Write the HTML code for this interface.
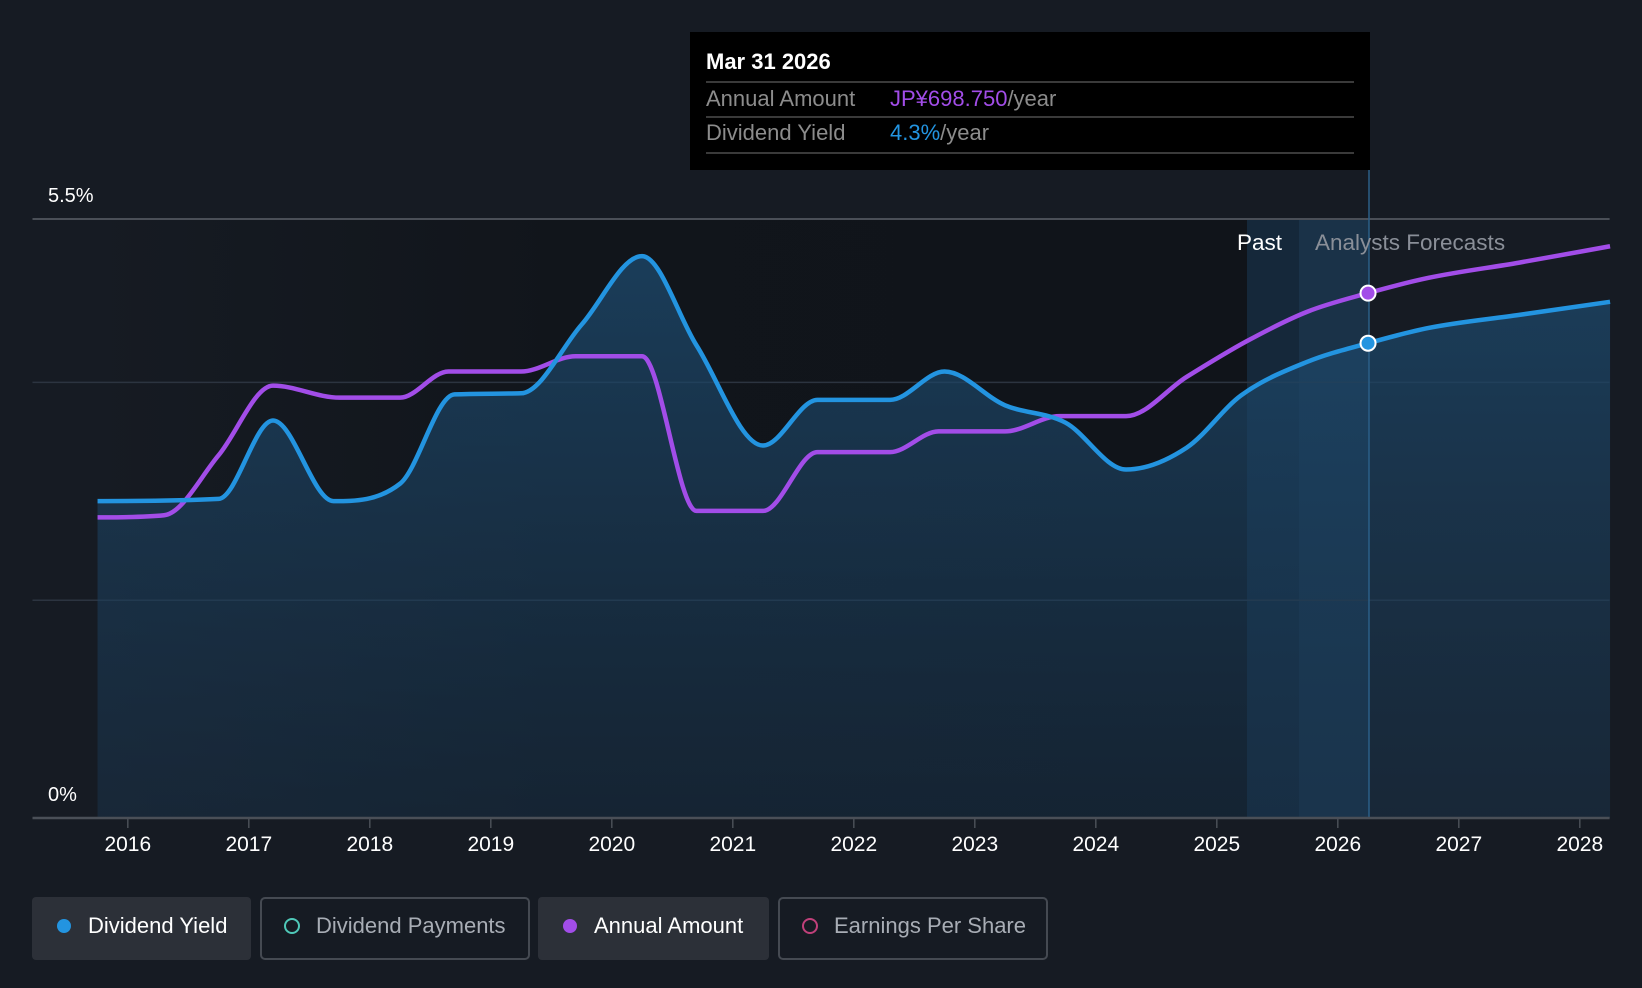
<!DOCTYPE html>
<html><head><meta charset="utf-8"><style>
body{margin:0;background:#161b23;font-family:"Liberation Sans",sans-serif;}
svg{display:block}
</style></head><body>
<svg id="c" width="1642" height="988">
<defs>
<linearGradient id="fillg" x1="0" y1="0" x2="0" y2="1">
<stop offset="0" stop-color="#1d4a6e" stop-opacity="0.75"/>
<stop offset="1" stop-color="#1a3650" stop-opacity="0.45"/>
</linearGradient>
<linearGradient id="bgg" x1="0" y1="0" x2="1" y2="0">
<stop offset="0" stop-color="#161b23"/>
<stop offset="0.4" stop-color="#11151b"/>
<stop offset="1" stop-color="#10141a"/>
</linearGradient>
</defs>
<rect width="1642" height="988" fill="#161b23"/>
<rect x="96" y="219" width="1151" height="599" fill="url(#bgg)"/>
<rect x="1247" y="219" width="122" height="599" fill="#15283a"/>
<rect x="1299" y="219" width="70" height="599" fill="#1a3248"/>
<g id="grid"></g>
<path id="area" fill="url(#fillg)"/>
<line x1="1369" y1="170" x2="1369" y2="818" stroke="#2b5f88" stroke-width="1.5"/>
<path id="purple" fill="none" stroke="#a24de8" stroke-width="4.5"/>
<path id="blue" fill="none" stroke="#2394e0" stroke-width="4.5"/>
<g id="axis"></g>
<text x="1282" y="250" fill="#fff" font-size="22.5" text-anchor="end">Past</text>
<text x="1315" y="250" fill="#8a8f98" font-size="22.5">Analysts Forecasts</text>
<g>
<rect x="690" y="32" width="680" height="138" fill="#000"/>
<text x="706" y="69" fill="#fff" font-size="22" font-weight="bold">Mar 31 2026</text>
<line x1="706" x2="1354" y1="82" y2="82" stroke="#3a3a3a" stroke-width="2"/>
<text x="706" y="106" fill="#8c8c8c" font-size="22">Annual Amount</text>
<text x="890" y="106" font-size="22"><tspan fill="#a24de8">JP¥698.750</tspan><tspan fill="#8c8c8c">/year</tspan></text>
<line x1="706" x2="1354" y1="117" y2="117" stroke="#3a3a3a" stroke-width="2"/>
<text x="706" y="140" fill="#8c8c8c" font-size="22">Dividend Yield</text>
<text x="890" y="140" font-size="22"><tspan fill="#2394e0">4.3%</tspan><tspan fill="#8c8c8c">/year</tspan></text>
<line x1="706" x2="1354" y1="153" y2="153" stroke="#3a3a3a" stroke-width="2"/>
</g>
<g id="dots"></g>
<g id="legend">
<g><rect x="32" y="897" width="219" height="63" rx="4" fill="#2c3038"/><circle cx="64" cy="926" r="7" fill="#2394e0"/><text x="88" y="933" fill="#fff" font-size="22">Dividend Yield</text></g>
<g><rect x="261" y="898" width="268" height="61" rx="4" fill="none" stroke="#454a52" stroke-width="2"/><circle cx="292" cy="926" r="7" fill="none" stroke="#4fc8b8" stroke-width="2"/><text x="316" y="933" fill="#a8adb5" font-size="22">Dividend Payments</text></g>
<g><rect x="538" y="897" width="231" height="63" rx="4" fill="#2c3038"/><circle cx="570" cy="926" r="7" fill="#a24de8"/><text x="594" y="933" fill="#fff" font-size="22">Annual Amount</text></g>
<g><rect x="779" y="898" width="268" height="61" rx="4" fill="none" stroke="#454a52" stroke-width="2"/><circle cx="810" cy="926" r="7" fill="none" stroke="#c0407a" stroke-width="2"/><text x="834" y="933" fill="#a8adb5" font-size="22">Earnings Per Share</text></g>
</g>
</svg>
<script>
const years=[2016,2017,2018,2019,2020,2021,2022,2023,2024,2025,2026,2027,2028];
const yTicks=[0,2,4,5.5];
const yLabels=["0%","","","5.5%"];
const yieldT=[2015.75,2016.75,2017.2,2017.7,2018.25,2018.7,2019.25,2019.75,2020.25,2020.7,2021.25,2021.7,2022.3,2022.75,2023.25,2023.75,2024.25,2024.75,2025.2,2025.75,2026.25,2026.75,2027.5,2028.25];
const yieldV=[2.91,2.93,3.65,2.91,3.07,3.89,3.9,4.53,5.16,4.34,3.42,3.84,3.84,4.1,3.79,3.63,3.2,3.4,3.88,4.19,4.36,4.5,4.62,4.74];
const amtT=[2015.75,2016.3,2016.75,2017.2,2017.75,2018.25,2018.65,2019.25,2019.7,2020.25,2020.7,2021.25,2021.7,2022.3,2022.7,2023.25,2023.7,2024.25,2024.75,2025.25,2025.75,2026.25,2026.75,2027.5,2028.25];
const amtV=[2.76,2.78,3.33,3.97,3.86,3.86,4.1,4.1,4.24,4.24,2.82,2.82,3.36,3.36,3.55,3.55,3.69,3.69,4.05,4.38,4.65,4.82,4.96,5.1,5.25];
const hoverT=2026.25;
const x=t=>127.8+(t-2016)*121.0;
const y=v=>818-v*108.9;
const NS="http://www.w3.org/2000/svg";
function el(tag,attrs,parent){const e=document.createElementNS(NS,tag);for(const k in attrs)e.setAttribute(k,attrs[k]);parent.appendChild(e);return e;}
function interp(ts,vs,t){for(let i=0;i<ts.length-1;i++){if(t>=ts[i]&&t<=ts[i+1]){const f=(t-ts[i])/(ts[i+1]-ts[i]);return vs[i]+f*(vs[i+1]-vs[i]);}}return vs[vs.length-1];}
function monotone(px,py){
 const n=px.length,d=[],m=[];
 for(let i=0;i<n-1;i++)d.push((py[i+1]-py[i])/(px[i+1]-px[i]));
 m[0]=d[0];m[n-1]=d[n-2];
 for(let i=1;i<n-1;i++){m[i]=(d[i-1]*d[i]<=0)?0:(d[i-1]+d[i])/2;}
 for(let i=0;i<n-1;i++){if(d[i]===0){m[i]=0;m[i+1]=0;continue;}const a=m[i]/d[i],b=m[i+1]/d[i],s=a*a+b*b;if(s>9){const tt=3/Math.sqrt(s);m[i]=tt*a*d[i];m[i+1]=tt*b*d[i];}}
 let s="M"+px[0]+","+py[0];
 for(let i=0;i<n-1;i++){const h=(px[i+1]-px[i])/3;s+=" C"+(px[i]+h)+","+(py[i]+m[i]*h)+" "+(px[i+1]-h)+","+(py[i+1]-m[i+1]*h)+" "+px[i+1]+","+py[i+1];}
 return s;}
const grid=document.getElementById('grid');
yTicks.forEach((v,i)=>{
 if(v>0){const l=el('line',{x1:32.5,x2:1609.6,y1:y(v),y2:y(v),stroke:v==5.5?'#4a4f57':'#2c3440','stroke-width':v==5.5?2:1.5},grid);
 
 }
 if(yLabels[i]){const t=el('text',{x:48,y:y(v)-17,fill:'#fff','font-size':20},grid);t.textContent=yLabels[i];
 
 }
});
const ax=document.getElementById('axis');
const al=el('line',{x1:32.5,x2:1609.6,y1:818,y2:818,stroke:'#4a4f57','stroke-width':2.5},ax);


years.forEach(yr=>{
 el('line',{x1:x(yr),x2:x(yr),y1:819,y2:828,stroke:'#4a4f57','stroke-width':1.5},ax);
 const t=el('text',{x:x(yr),y:851,fill:'#fff','font-size':21,'text-anchor':'middle'},ax);t.textContent=yr;
 
 
});
const bx=yieldT.map(x),by=yieldV.map(y);
const bp=monotone(bx,by);
document.getElementById('blue').setAttribute('d',bp);
document.getElementById('area').setAttribute('d',bp+" L"+bx[bx.length-1]+",818 L"+bx[0]+",818 Z");
document.getElementById('purple').setAttribute('d',monotone(amtT.map(x),amtV.map(y)));
const dots=document.getElementById('dots');
const d1=el('circle',{cx:x(hoverT),cy:y(interp(amtT,amtV,hoverT)),r:7.5,fill:'#a24de8',stroke:'#fff','stroke-width':2},dots);


const d2=el('circle',{cx:x(hoverT),cy:y(interp(yieldT,yieldV,hoverT)),r:7.5,fill:'#2394e0',stroke:'#fff','stroke-width':2},dots);


</script>
</body></html>
